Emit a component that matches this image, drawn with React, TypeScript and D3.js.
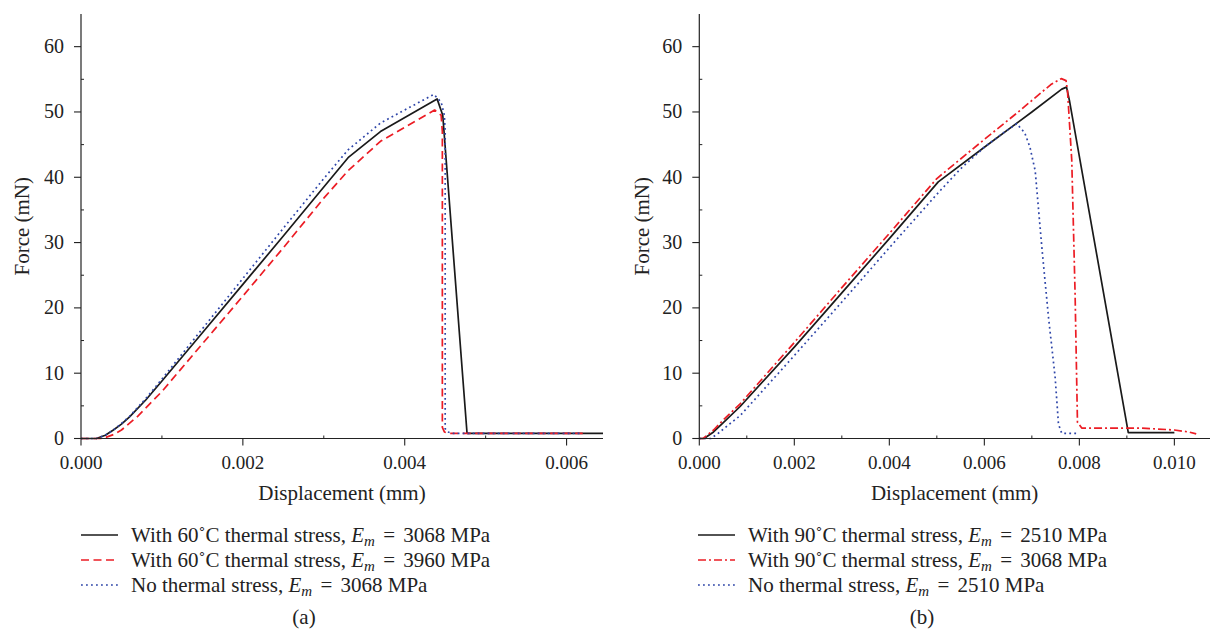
import React from "react";
import * as d3 from "d3";

// ---------- data (displacement mm, force mN) ----------
const seriesA_with60_3068: [number, number][] = [
  [0, 0], [0.00019, 0], [0.0003, 0.5], [0.0004, 1.3], [0.0005, 2.2], [0.0006, 3.3],
  [0.0008, 5.9], [0.001, 8.8], [0.0015, 16.2], [0.002, 23.6], [0.0025, 31.0],
  [0.003, 38.5], [0.0033, 43.0], [0.0037, 47.0], [0.0044, 52.0], [0.00447, 49.5],
  [0.00477, 0.8], [0.00645, 0.8],
];
const seriesA_with60_3960: [number, number][] = [
  [0, 0], [0.00027, 0], [0.0004, 0.6], [0.0005, 1.3], [0.0007, 3.4], [0.001, 7.2],
  [0.0015, 14.5], [0.002, 21.8], [0.0025, 29.2], [0.003, 36.8], [0.0033, 41.0],
  [0.0037, 45.5], [0.00437, 50.3], [0.00445, 49.5], [0.004465, 47.0],
  [0.004465, 1.7], [0.00449, 1.0], [0.004535, 0.8], [0.0062, 0.8],
];
const seriesA_none_3068: [number, number][] = [
  [0, 0], [0.00019, 0], [0.0003, 0.5], [0.0004, 1.3], [0.0005, 2.3], [0.0006, 3.4],
  [0.0008, 6.1], [0.001, 9.1], [0.0015, 16.8], [0.002, 24.5], [0.0025, 32.2],
  [0.003, 39.8], [0.0033, 44.2], [0.0037, 48.3], [0.00436, 52.7], [0.00445, 51.5],
  [0.00449, 49.5], [0.0045, 47.0], [0.0045, 1.5], [0.00453, 1.0], [0.00459, 0.8],
  [0.0062, 0.8],
];

const seriesB_with90_2510: [number, number][] = [
  [0, 0], [0.0001, 0], [0.0003, 1.0], [0.0005, 2.4], [0.00086, 4.9], [0.002, 14.0],
  [0.003, 22.3], [0.004, 30.6], [0.00503, 39.3], [0.006, 44.6], [0.007, 50.0],
  [0.00763, 53.5], [0.00773, 53.8], [0.00779, 51.8], [0.00903, 0.9], [0.01, 0.9],
];
const seriesB_with90_3068: [number, number][] = [
  [0, 0], [0.00008, 0], [0.0003, 1.3], [0.0005, 2.8], [0.00086, 5.3], [0.002, 14.7],
  [0.003, 23.1], [0.004, 31.4], [0.005, 39.8], [0.006, 45.8], [0.00668, 49.8],
  [0.0074, 54.2], [0.00762, 55.1], [0.00772, 54.8], [0.00775, 53.3], [0.00784, 42.6],
  [0.00791, 22.2], [0.00796, 2.5], [0.00805, 1.6], [0.0093, 1.6], [0.01, 1.3],
  [0.0103, 1.0], [0.01046, 0.7],
];
const seriesB_none_2510: [number, number][] = [
  [0, 0], [0.00024, 0], [0.0004, 0.8], [0.0006, 2.0], [0.00086, 3.5], [0.002, 12.7],
  [0.003, 20.9], [0.004, 29.2], [0.005, 37.4], [0.0055, 41.3], [0.006, 44.6],
  [0.0064, 46.8], [0.00668, 48.2], [0.00685, 46.8], [0.00696, 44.6], [0.00707, 41.0],
  [0.00721, 29.3], [0.00735, 18.6], [0.00749, 9.4], [0.00756, 2.2], [0.00763, 0.8],
  [0.00798, 0.8],
];

const xTicksA = [0, 0.002, 0.004, 0.006];
const xMinorA = [0.001, 0.003, 0.005];
const xTicksB = [0, 0.002, 0.004, 0.006, 0.008, 0.01];
const xMinorB = [0.001, 0.003, 0.005, 0.007, 0.009];
const yTicks = [0, 10, 20, 30, 40, 50, 60];
const yMinor = [5, 15, 25, 35, 45, 55];

const legendA = [
  { pre: "With 60˚C thermal stress, ", post: "3068 MPa" },
  { pre: "With 60˚C thermal stress, ", post: "3960 MPa" },
  { pre: "No thermal stress, ", post: "3068 MPa" },
];
const legendB = [
  { pre: "With 90˚C thermal stress, ", post: "2510 MPa" },
  { pre: "With 90˚C thermal stress, ", post: "3068 MPa" },
  { pre: "No thermal stress, ", post: "2510 MPa" },
];

const BLACK = "#1a1a1a";
const RED = "#ec1c24";
const BLUE = "#2e45a8";
const FONT = '"Liberation Serif", "Times New Roman", Times, serif';

type Style = { color: string; dash?: string };

const stylesA: Style[] = [
  { color: BLACK },
  { color: RED, dash: "8,4.5" },
  { color: BLUE, dash: "1.8,3.2" },
];
const stylesB: Style[] = [
  { color: BLACK },
  { color: RED, dash: "8,3,2,3" },
  { color: BLUE, dash: "1.8,3.2" },
];

const txt = { fontFamily: FONT, fill: "#222" };

function Panel(props: {
  x0: number; x1: number; xMax: number;
  xTicks: number[]; xMinor: number[];
  series: [number, number][][]; styles: Style[];
  legend: { pre: string; post: string }[];
  legendX: number; letter: string; letterX: number;
  yLabelX: number;
}) {
  const { x0, x1, xMax, xTicks, xMinor, series, styles, legend, legendX, letter, letterX, yLabelX } = props;
  const x = d3.scaleLinear().domain([0, xMax]).range([x0, x1]);
  const y = d3.scaleLinear().domain([0, 65]).range([438.5, 14]);
  const line = d3.line<[number, number]>().x((d) => x(d[0])).y((d) => y(d[1]));
  const fmt = d3.format(".3f");
  const axisY = y(0);
  const legendRows = [535, 560, 585];
  return (
    <g>
      {series.map((s, i) => (
        <path key={i} d={line(s) || ""} fill="none" stroke={styles[i].color}
          strokeWidth={1.7} strokeDasharray={styles[i].dash} strokeLinejoin="round" />
      ))}
      <line x1={x0} x2={x0} y1={y(65)} y2={axisY} stroke="#222" strokeWidth={1.2} />
      <line x1={x0} x2={x1} y1={axisY} y2={axisY} stroke="#222" strokeWidth={1.2} />
      {yTicks.map((t) => (
        <g key={"y" + t}>
          <line x1={x0 - 7} x2={x0} y1={y(t)} y2={y(t)} stroke="#222" strokeWidth={1.1} />
          <text x={x0 - 17} y={y(t) + 6.5} textAnchor="end" style={{ ...txt, fontSize: 20 }}>{t}</text>
        </g>
      ))}
      {yMinor.map((t) => (
        <line key={"ym" + t} x1={x0} x2={x0 + 3} y1={y(t)} y2={y(t)} stroke="#222" strokeWidth={1} />
      ))}
      {xTicks.map((t) => (
        <g key={"x" + t}>
          <line x1={x(t)} x2={x(t)} y1={axisY} y2={axisY + 7} stroke="#222" strokeWidth={1.1} />
          <text x={x(t)} y={axisY + 30} textAnchor="middle" style={{ ...txt, fontSize: 19 }}>{fmt(t)}</text>
        </g>
      ))}
      {xMinor.map((t) => (
        <line key={"xm" + t} x1={x(t)} x2={x(t)} y1={axisY - 3} y2={axisY} stroke="#222" strokeWidth={1} />
      ))}
      <text x={(x0 + x1) / 2} y={500} textAnchor="middle" style={{ ...txt, fontSize: 21 }}>Displacement (mm)</text>
      <text transform={`translate(${yLabelX},${(y(65) + axisY) / 2}) rotate(-90)`} textAnchor="middle"
        style={{ ...txt, fontSize: 21 }} dy={7}>Force (mN)</text>
      {legend.map((l, i) => (
        <g key={"l" + i}>
          <line x1={legendX} x2={legendX + 37} y1={legendRows[i]} y2={legendRows[i]} stroke={styles[i].color}
            strokeWidth={1.7} strokeDasharray={styles[i].dash} />
          <text x={legendX + 50} y={legendRows[i] + 6.5} style={{ ...txt, fontSize: 21 }}>
            {l.pre}
            <tspan fontStyle="italic">E</tspan>
            <tspan fontStyle="italic" style={{ fontSize: 15 }} dy={4}>m</tspan>
            <tspan dy={-4} dx={3}>{" = "}</tspan>
            <tspan dx={3}>{l.post}</tspan>
          </text>
        </g>
      ))}
      <text x={letterX} y={624} textAnchor="middle" style={{ ...txt, fontSize: 21 }}>{letter}</text>
    </g>
  );
}

export default function App() {
  return (
    <svg width={1212} height={635} style={{ position: "absolute", left: 0, top: 0, background: "#fff" }}>
      <rect x={0} y={0} width={1212} height={635} fill="#fff" />
      <Panel x0={81} x1={603} xMax={0.00645} xTicks={xTicksA} xMinor={xMinorA}
        series={[seriesA_with60_3068, seriesA_with60_3960, seriesA_none_3068]} styles={stylesA}
        legend={legendA} legendX={81} letter="(a)" letterX={304} yLabelX={22} />
      <Panel x0={699.3} x1={1210} xMax={0.01075} xTicks={xTicksB} xMinor={xMinorB}
        series={[seriesB_with90_2510, seriesB_with90_3068, seriesB_none_2510]} styles={stylesB}
        legend={legendB} legendX={698} letter="(b)" letterX={922} yLabelX={642} />
    </svg>
  );
}
